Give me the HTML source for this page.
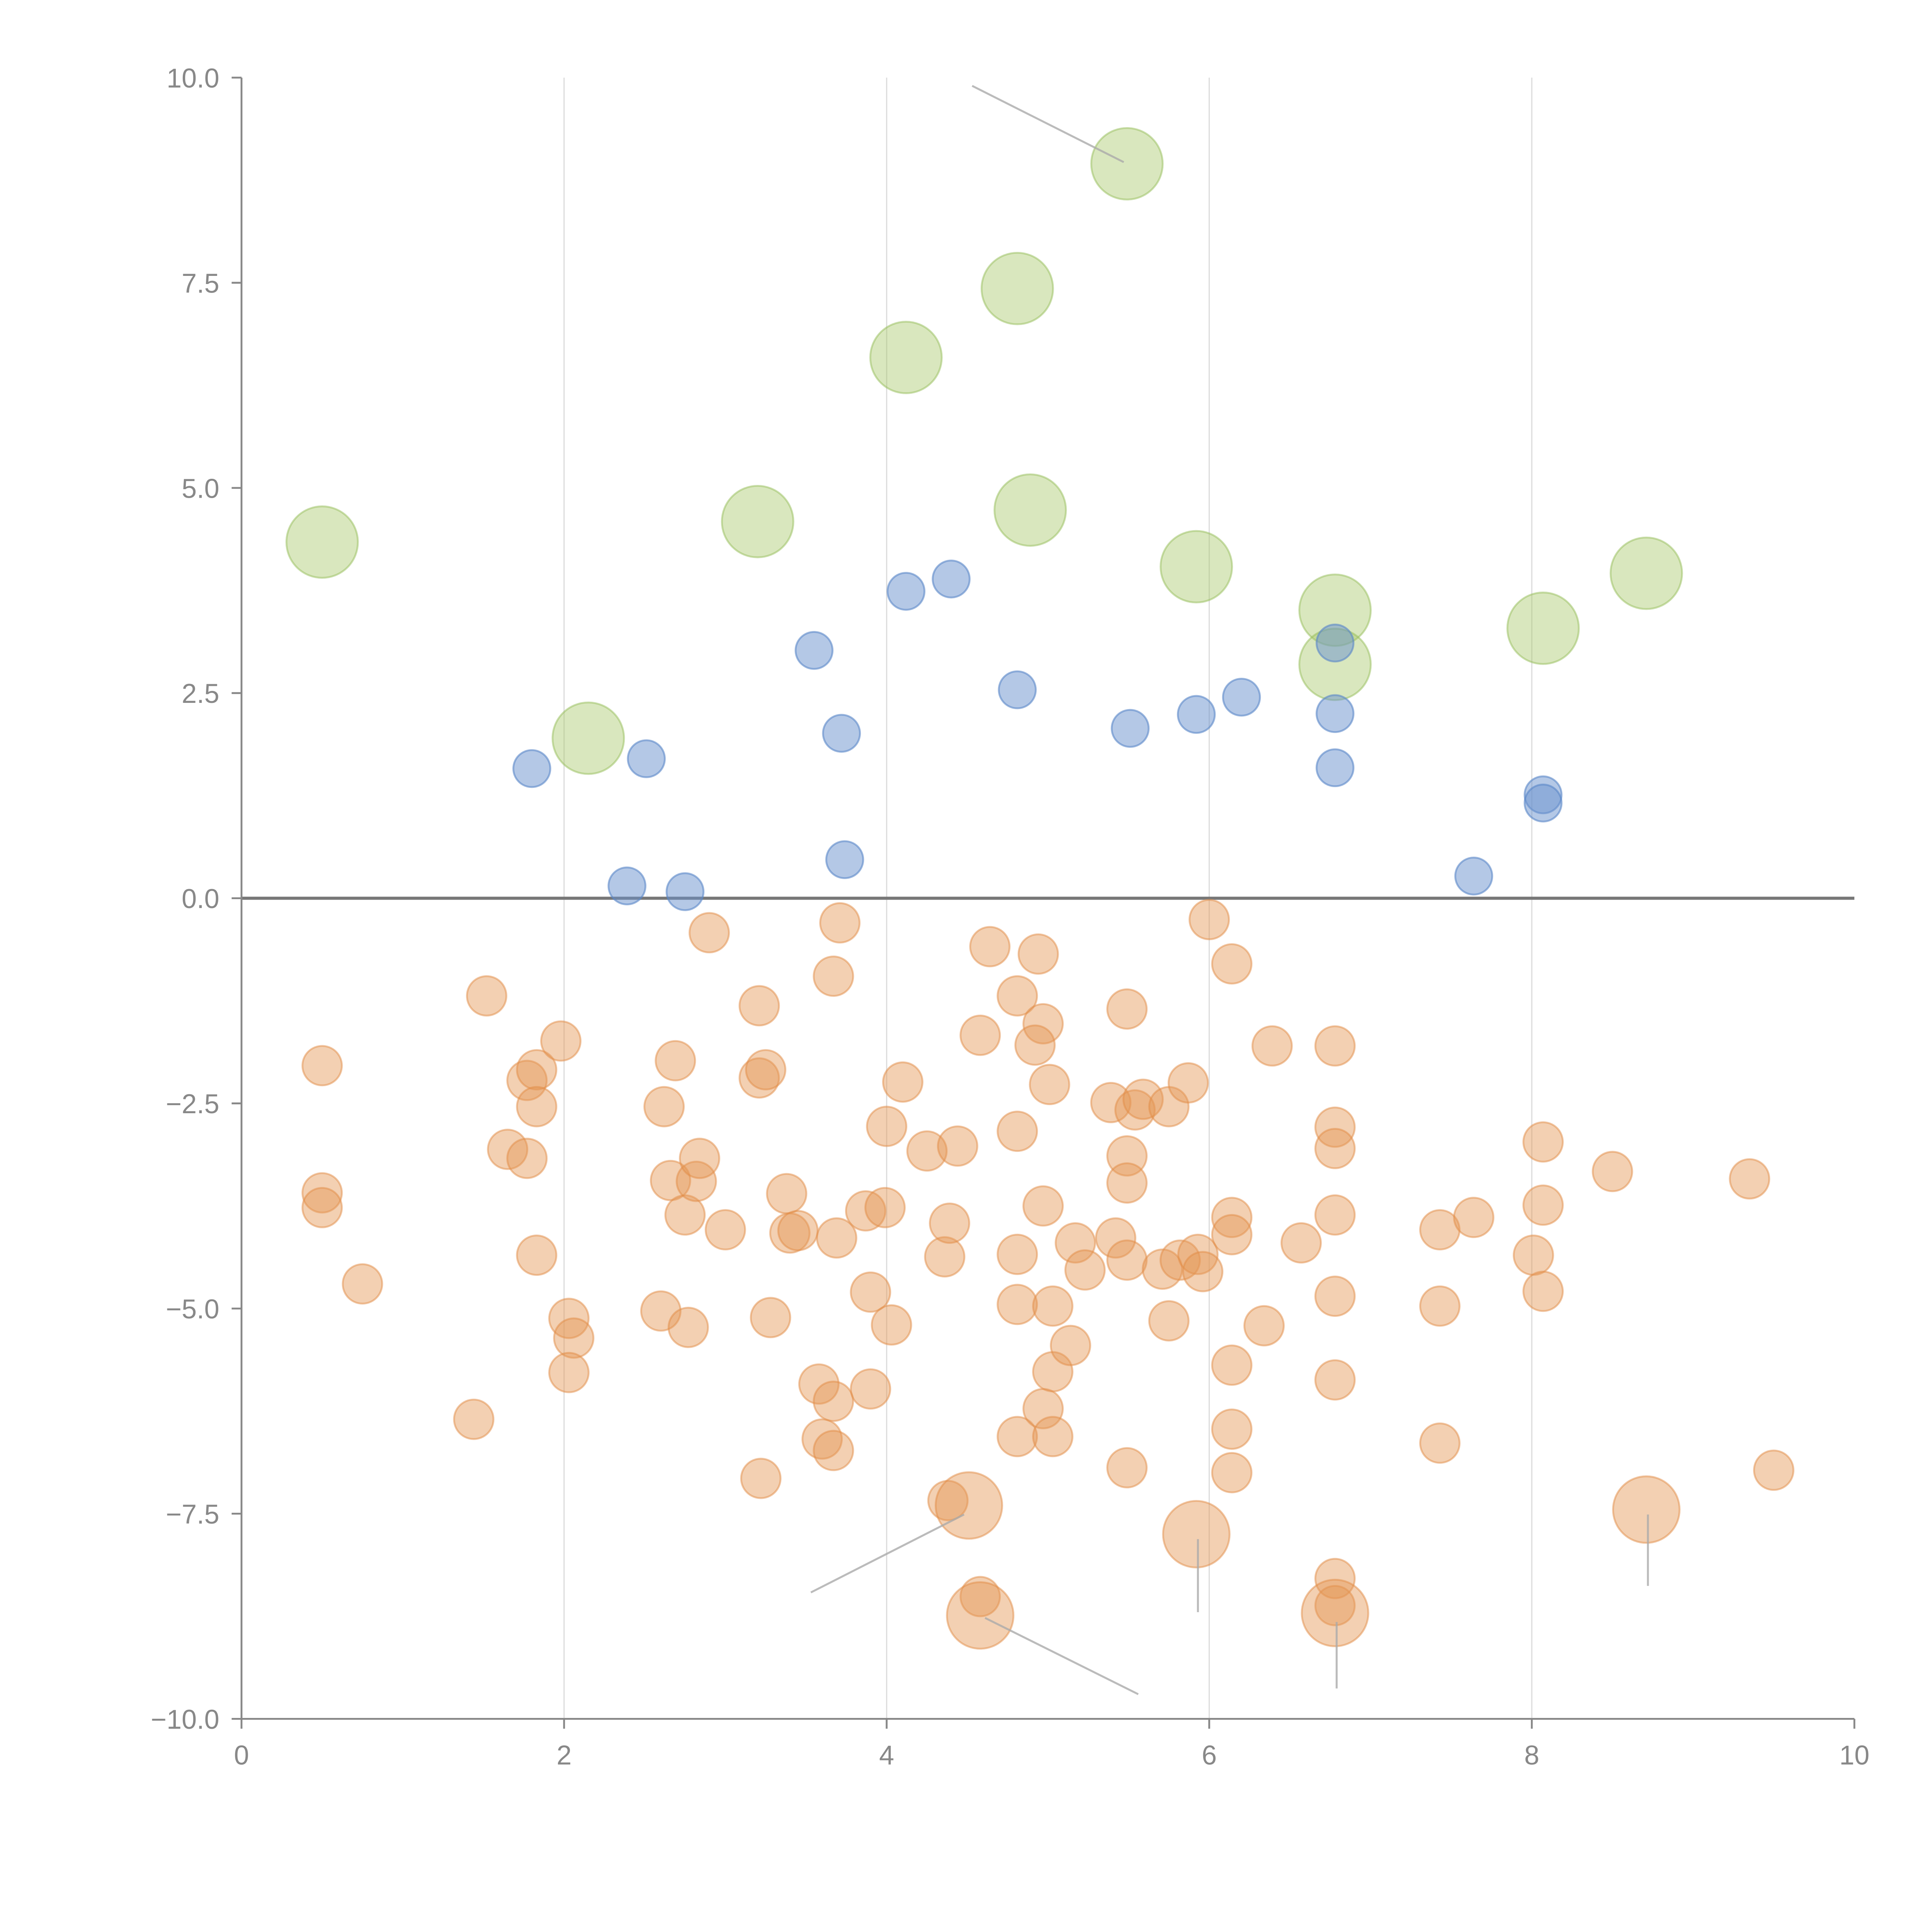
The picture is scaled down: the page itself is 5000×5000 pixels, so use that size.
<!DOCTYPE html>
<html><head><meta charset="utf-8"><style>
html,body{margin:0;padding:0;background:#fff;}
svg{display:block;}
text{font-family:"Liberation Sans",sans-serif;fill:#888;}
</style></head><body>
<svg id="chart" width="5000" height="5000" viewBox="0 0 1568 1568" xmlns="http://www.w3.org/2000/svg">
<g id="grid"></g>
<g id="marks"></g>
<g id="axes"></g>
</svg>
<script>
const xTicks = [0, 2, 4, 6, 8, 10];
const yTicks = [-10, -7.5, -5, -2.5, 0, 2.5, 5, 7.5, 10];
const yTickLabels = ["\u221210.0", "\u22127.5", "\u22125.0", "\u22122.5", "0.0", "2.5", "5.0", "7.5", "10.0"];
const greenX = [0.50, 2.15, 3.20, 4.12, 4.81, 4.89, 5.49, 5.92, 6.78, 6.78, 8.07, 8.71];
const greenY = [4.34, 1.95, 4.59, 6.59, 7.43, 4.73, 8.95, 4.04, 3.51, 2.85, 3.29, 3.96];
const blueX = [1.80, 2.51, 2.39, 2.75, 3.55, 3.72, 3.74, 4.12, 4.40, 4.81, 5.51, 5.92, 6.20, 6.78, 6.78, 6.78, 7.64, 8.07, 8.07];
const blueY = [1.58, 1.70, 0.15, 0.08, 3.02, 2.01, 0.47, 3.74, 3.89, 2.54, 2.07, 2.24, 2.45, 3.11, 2.25, 1.59, 0.27, 1.26, 1.16];
const orangeX = [0.50,0.50,0.50,0.75,1.44,1.52,1.65,1.77,1.77,1.83,1.83,1.83,1.98,2.03,2.06,2.03,2.60,2.62,2.66,2.69,2.75,2.77,2.82,2.84,2.90,3.00,3.21,3.21,3.25,3.28,3.22,3.38,3.40,3.45,3.58,3.60,3.67,3.67,3.67,3.69,3.71,3.87,3.90,3.90,3.99,4.00,4.03,4.10,4.25,4.36,4.39,4.44,4.38,4.58,4.58,4.64,4.81,4.81,4.81,4.81,4.81,4.94,4.97,4.92,4.97,5.01,5.03,5.03,4.97,5.03,5.14,5.17,5.23,5.39,5.42,5.49,5.49,5.49,5.49,5.49,5.54,5.59,5.71,5.75,5.75,5.82,5.87,5.93,5.96,6.00,6.14,6.14,6.14,6.14,6.14,6.14,6.34,6.39,6.57,6.78,6.78,6.78,6.78,6.78,6.78,6.78,6.78,7.43,7.43,7.43,7.64,8.01,8.07,8.07,8.07,8.50,9.35,9.50];
const orangeY = [-2.04,-3.59,-3.77,-4.70,-6.35,-1.19,-3.06,-3.17,-2.22,-2.09,-2.54,-4.35,-1.74,-5.12,-5.36,-5.78,-5.03,-2.54,-3.44,-1.98,-3.86,-5.23,-3.45,-3.17,-0.42,-4.04,-1.31,-2.19,-2.09,-5.11,-7.07,-3.60,-4.08,-4.05,-5.92,-6.59,-6.13,-6.73,-0.95,-4.14,-0.30,-3.81,-4.80,-5.98,-3.77,-2.78,-5.20,-2.24,-3.08,-4.37,-3.96,-3.02,-7.34,-1.67,-8.51,-0.59,-1.19,-2.84,-4.34,-4.95,-6.56,-0.68,-1.53,-1.79,-3.75,-2.27,-4.97,-5.77,-6.22,-6.56,-5.45,-4.20,-4.53,-2.49,-4.14,-1.35,-3.14,-3.47,-4.41,-6.94,-2.58,-2.45,-4.52,-5.15,-2.54,-4.41,-2.25,-4.34,-4.55,-0.26,-0.80,-3.89,-4.10,-5.69,-6.47,-7.00,-5.21,-1.80,-4.20,-1.80,-2.79,-3.05,-3.86,-4.85,-5.87,-8.29,-8.62,-4.04,-4.97,-6.64,-3.89,-4.35,-2.97,-3.74,-4.79,-3.33,-3.42,-6.97];
const bigOrangeX = [4.51, 4.58, 5.92, 6.78, 8.71];
const bigOrangeY = [-7.40, -8.74, -7.75, -8.71, -7.45];
const leaders = [[4.53,9.9,5.47,8.97],[3.53,-8.46,4.48,-7.51],[4.61,-8.77,5.56,-9.7],[5.93,-7.81,5.93,-8.7],[6.79,-8.82,6.79,-9.63],[8.72,-7.51,8.72,-8.38]];

const X0=196, X1=1505, Y0=1395, Y1=63;
function sx(v){return X0+(v-0)/10*(X1-X0);}
function sy(v){return Y0-(v+10)/20*(Y0-Y1);}
const NS="http://www.w3.org/2000/svg";
function mk(tag, parent, attrs){const e=document.createElementNS(NS,tag);for(const k in attrs)e.setAttribute(k,attrs[k]);parent.appendChild(e);return e;}
const grid=document.getElementById('grid'), marks=document.getElementById('marks'), axes=document.getElementById('axes');

xTicks.forEach(t=>{ if(t>0&&t<10){
  const l=mk('line',grid,{x1:sx(t),x2:sx(t),y1:Y1,y2:Y0,stroke:'#ddd','stroke-width':1});
  
  
}});
const zl=mk('line',grid,{x1:X0,x2:X1,y1:sy(0),y2:sy(0),stroke:'#777','stroke-width':2.5});



function drawSeries(xs,ys,r,fill,stroke,name){
  xs.forEach((x,i)=>{
    const c=mk('circle',marks,{cx:sx(x),cy:sy(ys[i]),r:r,fill:fill,stroke:stroke,'stroke-width':1.5});
    
    
  });
}
drawSeries(greenX,greenY,29,'rgba(165,198,100,0.42)','rgba(150,190,90,0.5)','green-bubble');
drawSeries(blueX,blueY,15,'rgba(105,145,205,0.5)','rgba(90,135,200,0.6)','blue-bubble');
drawSeries(orangeX,orangeY,16,'rgba(228,150,85,0.45)','rgba(225,140,70,0.5)','orange-bubble');
drawSeries(bigOrangeX,bigOrangeY,27,'rgba(228,150,85,0.45)','rgba(225,140,70,0.5)','large-orange-bubble');

leaders.forEach(L=>{
  const l=mk('line',marks,{x1:sx(L[0]),y1:sy(L[1]),x2:sx(L[2]),y2:sy(L[3]),stroke:'#aaa','stroke-width':1.6,'stroke-opacity':0.8});
  
  
});

const ya=mk('line',axes,{x1:X0,x2:X0,y1:Y1,y2:Y0,stroke:'#888','stroke-width':1.5});


const xa=mk('line',axes,{x1:X0,x2:X1,y1:Y0,y2:Y0,stroke:'#888','stroke-width':1.5});


yTicks.forEach((t,i)=>{
  const tk=mk('line',axes,{x1:X0-8,x2:X0,y1:sy(t),y2:sy(t),stroke:'#888','stroke-width':1.5});
  
  
  const tx=mk('text',axes,{x:X0-18,y:sy(t)+8,'text-anchor':'end','font-size':22});
  tx.textContent=yTickLabels[i];
  
  
});
xTicks.forEach(t=>{
  const tk=mk('line',axes,{x1:sx(t),x2:sx(t),y1:Y0,y2:Y0+8,stroke:'#888','stroke-width':1.5});
  
  
  const tx=mk('text',axes,{x:sx(t),y:Y0+37,'text-anchor':'middle','font-size':22});
  tx.textContent=String(t);
  
  
});
</script>
</body></html>
